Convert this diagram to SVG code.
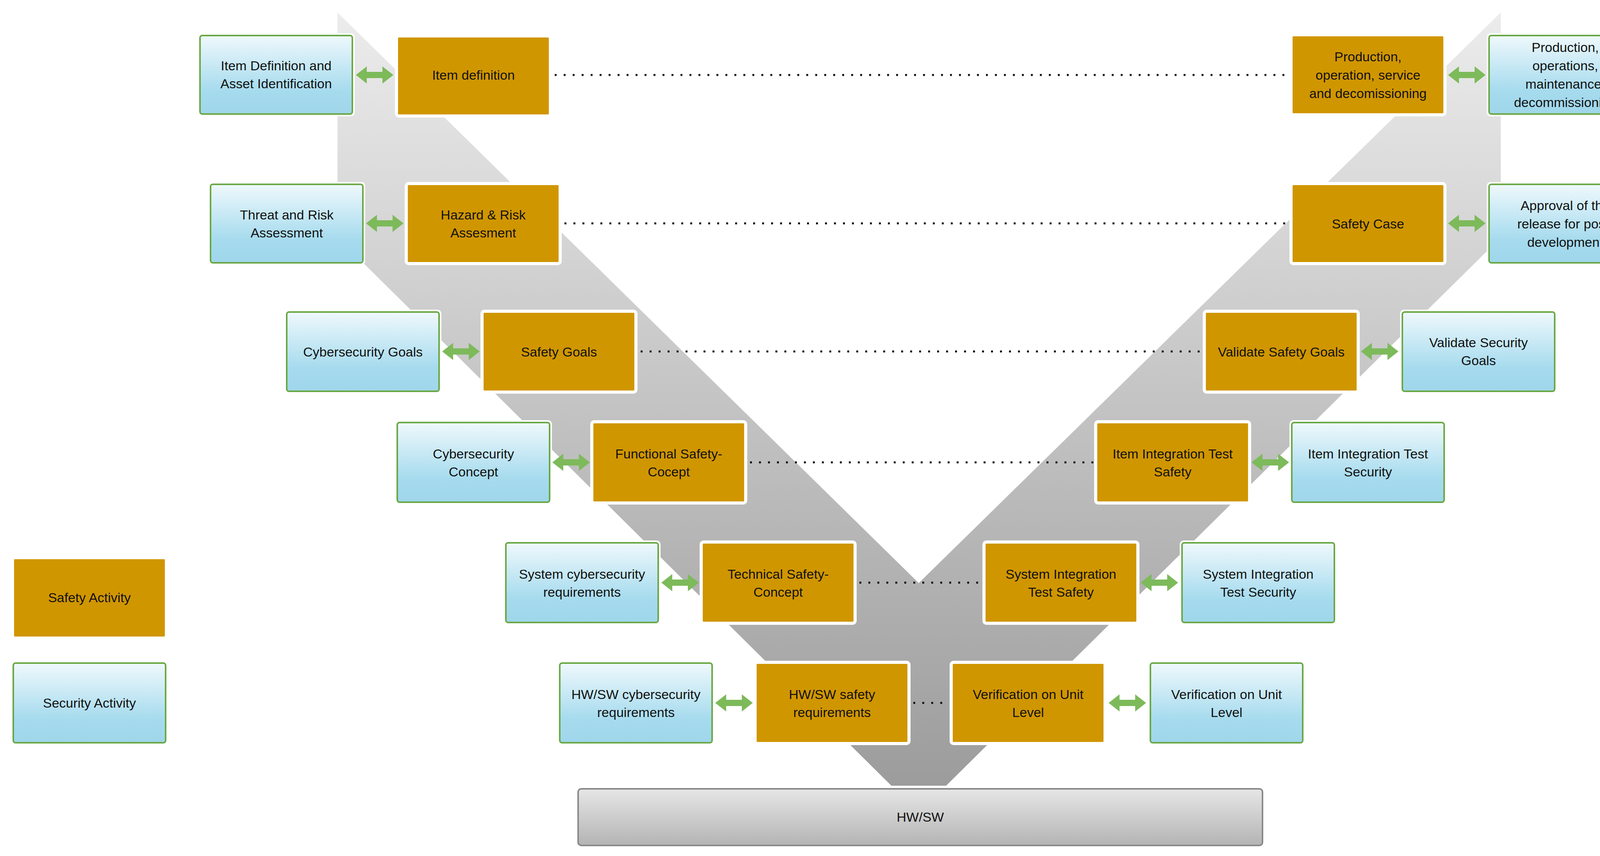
<svg xmlns="http://www.w3.org/2000/svg" width="4232" height="2192" viewBox="0 0 4232 2192">
<defs>
<linearGradient id="vg" x1="0" y1="0" x2="0" y2="1"><stop offset="0" stop-color="#ececec"/><stop offset="1" stop-color="#9c9c9c"/></linearGradient>
<linearGradient id="bg" x1="0" y1="0" x2="0" y2="1"><stop offset="0" stop-color="#f0f9fc"/><stop offset="0.7" stop-color="#a6dbee"/><stop offset="1" stop-color="#9fd6ea"/></linearGradient>
<linearGradient id="hg" x1="0" y1="0" x2="0" y2="1"><stop offset="0" stop-color="#e6e6e6"/><stop offset="1" stop-color="#b4b4b4"/></linearGradient>
<path id="dar" d="M-48,0L-20,-22L-20,-8L20,-8L20,-22L48,0L20,22L20,8L-20,8L-20,22Z" fill="#7dba5a"/>
</defs>
<style>
.o{fill:#d09600;stroke:#fff;stroke-width:8}
.b{fill:url(#bg);stroke:#fff;stroke-width:8}
.bb{fill:none;stroke:#6aa844;stroke-width:4}
text{font-family:"Liberation Sans",Arial,sans-serif;font-size:34px;fill:#111;text-anchor:middle}
.d{stroke:#111;stroke-width:5;stroke-dasharray:5 18;fill:none}
</style>
<polygon points="864,32 2352,1493 3842,32 3842,608 2422,2012 2282,2012 864,608" fill="url(#vg)"/>
<g id="n1a"><rect class="b" x="510" y="89" width="394" height="205" rx="6"/><rect class="bb" x="512" y="91" width="390" height="201" rx="6"/><text x="707" y="180">Item Definition and</text><text x="707" y="226">Asset Identification</text></g>
<g id="n1b"><rect class="o" x="1015" y="92" width="394" height="205" rx="6"/><text x="1212" y="204">Item definition</text></g>
<g id="n1c"><rect class="o" x="3305" y="89" width="394" height="205" rx="6"/><text x="3502" y="157">Production,</text><text x="3502" y="204">operation, service</text><text x="3502" y="251">and decomissioning</text></g>
<g id="n1d"><rect class="b" x="3810" y="89" width="394" height="205" rx="6"/><rect class="bb" x="3812" y="91" width="390" height="201" rx="6"/><text x="4007" y="133">Production,</text><text x="4007" y="180">operations,</text><text x="4007" y="227">maintenance,</text><text x="4007" y="274">decommissioning</text></g>
<g id="n2a"><rect class="b" x="537" y="470" width="394" height="205" rx="6"/><rect class="bb" x="539" y="472" width="390" height="201" rx="6"/><text x="734" y="562">Threat and Risk</text><text x="734" y="608">Assessment</text></g>
<g id="n2b"><rect class="o" x="1040" y="470" width="394" height="205" rx="6"/><text x="1237" y="562">Hazard &amp; Risk</text><text x="1237" y="608">Assesment</text></g>
<g id="n2c"><rect class="o" x="3305" y="470" width="394" height="205" rx="6"/><text x="3502" y="585">Safety Case</text></g>
<g id="n2d"><rect class="b" x="3810" y="470" width="394" height="205" rx="6"/><rect class="bb" x="3812" y="472" width="390" height="201" rx="6"/><text x="4007" y="538">Approval of the</text><text x="4007" y="585">release for post-</text><text x="4007" y="632">development</text></g>
<g id="n3a"><rect class="b" x="732" y="797" width="394" height="207" rx="6"/><rect class="bb" x="734" y="799" width="390" height="203" rx="6"/><text x="929" y="913">Cybersecurity Goals</text></g>
<g id="n3b"><rect class="o" x="1234" y="797" width="394" height="207" rx="6"/><text x="1431" y="913">Safety Goals</text></g>
<g id="n3c"><rect class="o" x="3083" y="797" width="394" height="207" rx="6"/><text x="3280" y="913">Validate Safety Goals</text></g>
<g id="n3d"><rect class="b" x="3588" y="797" width="394" height="207" rx="6"/><rect class="bb" x="3590" y="799" width="390" height="203" rx="6"/><text x="3785" y="889">Validate Security</text><text x="3785" y="935">Goals</text></g>
<g id="n4a"><rect class="b" x="1015" y="1080" width="394" height="208" rx="6"/><rect class="bb" x="1017" y="1082" width="390" height="204" rx="6"/><text x="1212" y="1174">Cybersecurity</text><text x="1212" y="1220">Concept</text></g>
<g id="n4b"><rect class="o" x="1515" y="1080" width="394" height="208" rx="6"/><text x="1712" y="1174">Functional Safety-</text><text x="1712" y="1220">Cocept</text></g>
<g id="n4c"><rect class="o" x="2805" y="1080" width="394" height="208" rx="6"/><text x="3002" y="1174">Item Integration Test</text><text x="3002" y="1220">Safety</text></g>
<g id="n4d"><rect class="b" x="3305" y="1080" width="394" height="208" rx="6"/><rect class="bb" x="3307" y="1082" width="390" height="204" rx="6"/><text x="3502" y="1174">Item Integration Test</text><text x="3502" y="1220">Security</text></g>
<g id="n5a"><rect class="b" x="1293" y="1388" width="394" height="208" rx="6"/><rect class="bb" x="1295" y="1390" width="390" height="204" rx="6"/><text x="1490" y="1482">System cybersecurity</text><text x="1490" y="1528">requirements</text></g>
<g id="n5b"><rect class="o" x="1795" y="1388" width="394" height="208" rx="6"/><text x="1992" y="1482">Technical Safety-</text><text x="1992" y="1528">Concept</text></g>
<g id="n5c"><rect class="o" x="2519" y="1388" width="394" height="208" rx="6"/><text x="2716" y="1482">System Integration</text><text x="2716" y="1528">Test Safety</text></g>
<g id="n5d"><rect class="b" x="3024" y="1388" width="394" height="208" rx="6"/><rect class="bb" x="3026" y="1390" width="390" height="204" rx="6"/><text x="3221" y="1482">System Integration</text><text x="3221" y="1528">Test Security</text></g>
<g id="n6a"><rect class="b" x="1431" y="1696" width="394" height="208" rx="6"/><rect class="bb" x="1433" y="1698" width="390" height="204" rx="6"/><text x="1628" y="1790">HW/SW cybersecurity</text><text x="1628" y="1836">requirements</text></g>
<g id="n6b"><rect class="o" x="1933" y="1696" width="394" height="208" rx="6"/><text x="2130" y="1790">HW/SW safety</text><text x="2130" y="1836">requirements</text></g>
<g id="n6c"><rect class="o" x="2435" y="1696" width="394" height="208" rx="6"/><text x="2632" y="1790">Verification on Unit</text><text x="2632" y="1836">Level</text></g>
<g id="n6d"><rect class="b" x="2943" y="1696" width="394" height="208" rx="6"/><rect class="bb" x="2945" y="1698" width="390" height="204" rx="6"/><text x="3140" y="1790">Verification on Unit</text><text x="3140" y="1836">Level</text></g>
<g id="legend-safety"><rect class="o" x="32" y="1428" width="394" height="206" rx="6"/><text x="229" y="1542">Safety Activity</text></g>
<g id="legend-security"><rect class="b" x="32" y="1696" width="394" height="208" rx="6"/><rect class="bb" x="34" y="1698" width="390" height="204" rx="6"/><text x="229" y="1812">Security Activity</text></g>
<g id="hwsw"><rect x="1480" y="2020" width="1752" height="145" rx="8" fill="url(#hg)" stroke="#8a8a8a" stroke-width="4"/><text x="2356" y="2104">HW/SW</text></g>
<g id="connectors">
<path class="d" d="M1420,192H3300M1445,572H3300M1640,900H3078M1920,1184H2800M2200,1492H2514M2338,1800H2430"/>
<use href="#dar" transform="translate(959,192)"/>
<use href="#dar" transform="translate(985,572)"/>
<use href="#dar" transform="translate(1180,900)"/>
<use href="#dar" transform="translate(1462,1184)"/>
<use href="#dar" transform="translate(1741,1492)"/>
<use href="#dar" transform="translate(1879,1800)"/>
<use href="#dar" transform="translate(3755,192)"/>
<use href="#dar" transform="translate(3755,572)"/>
<use href="#dar" transform="translate(3532,900)"/>
<use href="#dar" transform="translate(3252,1184)"/>
<use href="#dar" transform="translate(2968,1492)"/>
<use href="#dar" transform="translate(2886,1800)"/>
</g>
</svg>
